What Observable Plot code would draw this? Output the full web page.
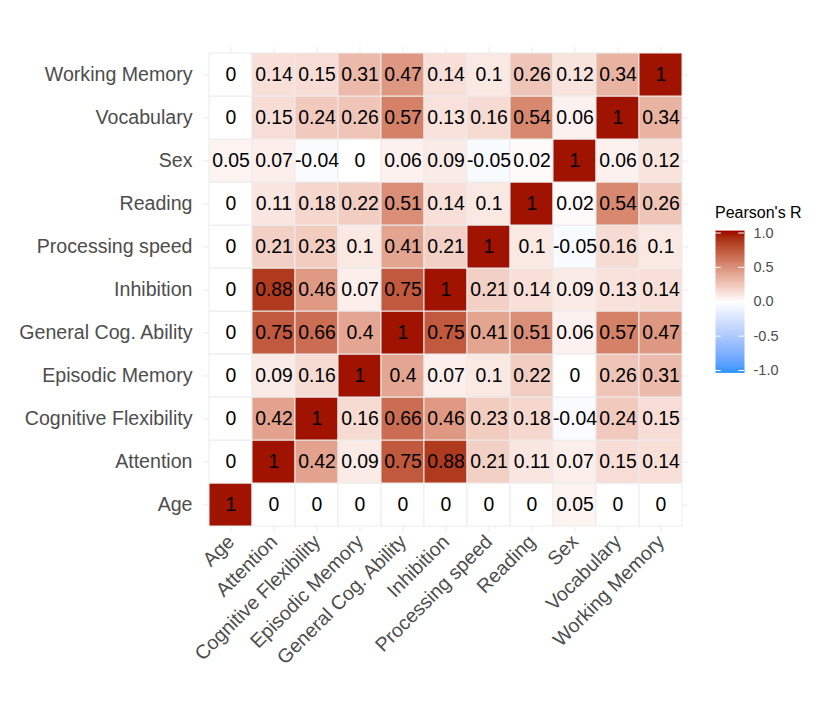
<!DOCTYPE html>
<html>
<head>
<meta charset="utf-8">
<script src="https://cdn.jsdelivr.net/npm/d3@7"></script>
<script src="https://cdn.jsdelivr.net/npm/@observablehq/plot@0.6"></script>
<style>
  html, body { margin: 0; padding: 0; background: #fff; }
  #wrap { position: relative; width: 822px; height: 706px; font-family: "Liberation Sans", Arial, sans-serif; }
  #wrap > * { position: absolute; }
  #legend-title { left: 715px; top: 204px; font-size: 16px; color: #000; white-space: nowrap; }
</style>
</head>
<body>
<div id="wrap">
  <div id="main" style="left:0;top:0"></div>
  <div id="legend-title">Pearson's R</div>
  <div id="legend" style="left:700px;top:195px"></div>
</div>
<script>
// Variables, in column order (left to right)
const variables = [
  "Age", "Attention", "Cognitive Flexibility", "Episodic Memory",
  "General Cog. Ability", "Inhibition", "Processing speed", "Reading",
  "Sex", "Vocabulary", "Working Memory"
];

// Pearson correlations: one row per variable, values follow the column order above
const rAge                  = [1, 0, 0, 0, 0, 0, 0, 0, 0.05, 0, 0];
const rAttention            = [0, 1, 0.42, 0.09, 0.75, 0.88, 0.21, 0.11, 0.07, 0.15, 0.14];
const rCognitiveFlexibility = [0, 0.42, 1, 0.16, 0.66, 0.46, 0.23, 0.18, -0.04, 0.24, 0.15];
const rEpisodicMemory       = [0, 0.09, 0.16, 1, 0.4, 0.07, 0.1, 0.22, 0, 0.26, 0.31];
const rGeneralCogAbility    = [0, 0.75, 0.66, 0.4, 1, 0.75, 0.41, 0.51, 0.06, 0.57, 0.47];
const rInhibition           = [0, 0.88, 0.46, 0.07, 0.75, 1, 0.21, 0.14, 0.09, 0.13, 0.14];
const rProcessingSpeed      = [0, 0.21, 0.23, 0.1, 0.41, 0.21, 1, 0.1, -0.05, 0.16, 0.1];
const rReading              = [0, 0.11, 0.18, 0.22, 0.51, 0.14, 0.1, 1, 0.02, 0.54, 0.26];
const rSex                  = [0.05, 0.07, -0.04, 0, 0.06, 0.09, -0.05, 0.02, 1, 0.06, 0.12];
const rVocabulary           = [0, 0.15, 0.24, 0.26, 0.57, 0.13, 0.16, 0.54, 0.06, 1, 0.34];
const rWorkingMemory        = [0, 0.14, 0.15, 0.31, 0.47, 0.14, 0.1, 0.26, 0.12, 0.34, 1];

const rowValues = [
  rAge, rAttention, rCognitiveFlexibility, rEpisodicMemory, rGeneralCogAbility,
  rInhibition, rProcessingSpeed, rReading, rSex, rVocabulary, rWorkingMemory
];

// Colour bar ticks
const legendTicks = [-1, -0.5, 0, 0.5, 1];

// Long table for the tiles
const cells = [];
variables.forEach((rowVar, i) => {
  rowValues[i].forEach((r, j) => cells.push({x: variables[j], y: rowVar, r}));
});

const colorScale = {
  type: "linear",
  domain: [-1, 0, 1],
  range: ["#3b97ff", "#ffffff", "#a01300"],
  interpolate: "lab"
};

const font = "'Liberation Sans', Arial, sans-serif";
const axisColor = "#4d4d4d";

const main = Plot.plot({
  width: 822,
  height: 706,
  marginLeft: 203,
  marginRight: 134,
  marginTop: 47,
  marginBottom: 174,
  style: {fontFamily: font, fontSize: "19px", background: "#fff"},
  x: {domain: variables, padding: 0, inset: 4.3, label: null},
  y: {domain: variables.slice().reverse(), padding: 0, inset: 4.3, label: null},
  color: colorScale,
  marks: [
    Plot.gridX({stroke: "#ebebeb", strokeOpacity: 1}),
    Plot.gridY({stroke: "#ebebeb", strokeOpacity: 1}),
    Plot.cell(cells, {x: "x", y: "y", fill: "r", stroke: "#ececec", strokeWidth: 1, inset: 0}),
    Plot.text(cells, {x: "x", y: "y", text: d => String(d.r), fill: "#000", fontSize: 19.4}),
    Plot.axisY({tickSize: 0, tickPadding: 11, fill: axisColor, fontSize: 19.6, label: null}),
    Plot.axisX({tickSize: 0, tickPadding: 6, tickRotate: -45, fill: axisColor, fontSize: 19.6, label: null})
  ]
});
document.getElementById("main").appendChild(main);

// Vertical colour bar
const legend = Plot.plot({
  width: 122,
  height: 190,
  margin: 0,
  style: {fontFamily: font, background: "transparent", overflow: "visible"},
  x: {domain: [0, 1], range: [15, 44], axis: null},
  y: {domain: [-1, 1], range: [175, 37.5], axis: null},
  color: colorScale,
  marks: [
    Plot.raster({x1: 0, x2: 1, y1: -1.035, y2: 1.035, width: 2, height: 300, fill: (x, y) => y, imageRendering: "auto"}),
    Plot.ruleY(legendTicks, {x1: 0, x2: 0.2, stroke: "#fff", strokeWidth: 1}),
    Plot.ruleY(legendTicks, {x1: 0.8, x2: 1, stroke: "#fff", strokeWidth: 1}),
    Plot.text(legendTicks, {x: 1, y: d => d, dx: 9, text: d => d.toFixed(1), textAnchor: "start", fill: axisColor, fontSize: 14.5})
  ]
});
document.getElementById("legend").appendChild(legend);
</script>
</body>
</html>
